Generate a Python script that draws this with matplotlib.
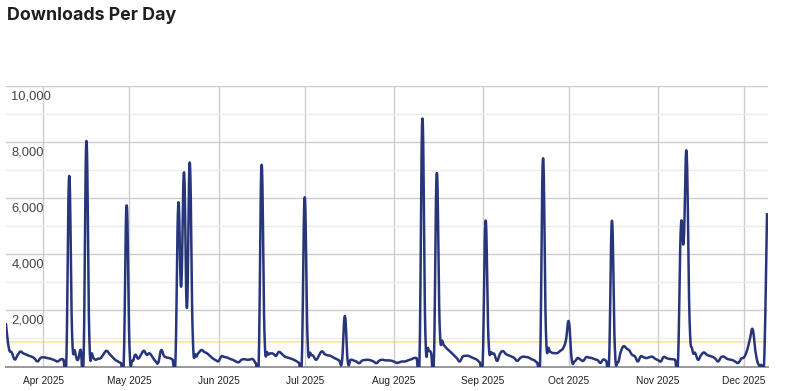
import numpy as np
import pandas as pd
import matplotlib
matplotlib.use("Agg")
import matplotlib.pyplot as plt
import matplotlib.dates as mdates
import matplotlib.transforms as mtransforms

# ---------------- data ----------------
start_date = "2025-03-19"
mar = [1500, 650, 500, 250, 400, 530, 470, 430, 380, 350, 280, 180, 300]
apr = [330, 310, 290, 260, 220, 180, 250, 250, 150, 6800,
       1200, 550, 230, 600, 200, 8050, 1100, 450, 250, 280,
       300, 450, 560, 450, 350, 240, 180, 130, 150, 5750]
may = [700, 200, 420, 280, 420, 560, 420, 470, 330, 200,
       130, 580, 380, 320, 300, 250, 180, 5800, 2850, 6930,
       2090, 7280, 1200, 420, 480, 590, 520, 470, 380, 290, 230]
jun = [190, 360, 340, 320, 270, 240, 180, 150, 240, 260,
       240, 250, 260, 120, 150, 7200, 1200, 500, 470, 460,
       380, 520, 450, 360, 320, 290, 250, 200, 140, 150]
jul = [6040, 1000, 480, 380, 240, 400, 540, 440, 400, 380,
       320, 270, 220, 180, 1800, 180, 240, 220, 180, 120,
       210, 230, 240, 220, 180, 120, 210, 240, 220, 220, 210]
aug = [180, 130, 150, 180, 180, 220, 250, 300, 300, 250,
       8850, 1300, 650, 500, 200, 6900, 1500, 900, 700, 600,
       500, 400, 300, 180, 350, 380, 380, 330, 290, 240, 150]
sep = [170, 5210, 1000, 500, 450, 200, 450, 550, 450, 400,
       360, 300, 200, 300, 350, 340, 320, 260, 220, 140,
       200, 7430, 1300, 650, 500, 480, 480, 560, 650, 950]
oct_ = [1600, 250, 180, 300, 250, 200, 330, 320, 300, 260,
        230, 130, 250, 200, 180, 5200, 700, 150, 500, 720,
        650, 580, 420, 360, 180, 360, 330, 300, 330, 350, 280]
nov = [230, 180, 340, 300, 270, 260, 240, 150, 4960, 4460,
       7650, 1800, 600, 480, 240, 400, 500, 420, 380, 350,
       280, 180, 330, 350, 280, 250, 230, 170, 130, 280]
dec = [330, 560, 950, 1330, 520, 80, 60, 150, 5430]

reference_level = 890

y_ticks = [2000, 4000, 6000, 8000, 10000]
y_tick_labels = ["2,000", "4,000", "6,000", "8,000", "10,000"]
x_tick_dates = ["2025-04-01", "2025-05-01", "2025-06-01", "2025-07-01",
                "2025-08-01", "2025-09-01", "2025-10-01", "2025-11-01",
                "2025-12-01"]
x_tick_labels = ["Apr 2025", "May 2025", "Jun 2025", "Jul 2025", "Aug 2025",
                 "Sep 2025", "Oct 2025", "Nov 2025", "Dec 2025"]

values = np.array(mar + apr + may + jun + jul + aug + sep + oct_ + nov + dec, dtype=float)
dates = pd.date_range(start_date, periods=len(values), freq="D")
xnum = mdates.date2num(dates.to_pydatetime())


def smooth(x, y, f=0.22, n=16):
    """Smoothed curve through the points (cubic Bezier segments, 'function' style)."""
    xp = np.concatenate([[x[0]], x, [x[-1]]])
    yp = np.concatenate([[y[0]], y, [y[-1]]])
    t = np.linspace(0, 1, n, endpoint=False)[:, None]
    b0 = (1 - t) ** 3
    b1 = 3 * (1 - t) ** 2 * t
    b2 = 3 * (1 - t) * t ** 2
    b3 = t ** 3
    xs, ys = [], []
    for i in range(len(y) - 1):
        j = i + 1  # index in padded arrays
        c1x = xp[j] + f * (xp[j + 1] - xp[j - 1])
        c1y = yp[j] + f * (yp[j + 1] - yp[j - 1])
        c2x = xp[j + 1] - f * (xp[j + 2] - xp[j])
        c2y = yp[j + 1] - f * (yp[j + 2] - yp[j])
        xs.append((b0 * xp[j] + b1 * c1x + b2 * c2x + b3 * xp[j + 1]).ravel())
        ys.append((b0 * yp[j] + b1 * c1y + b2 * c2y + b3 * yp[j + 1]).ravel())
    xs.append([x[-1]])
    ys.append([y[-1]])
    return np.concatenate(xs), np.concatenate(ys)


# ---------------- figure ----------------
W, H = 800, 391
fig = plt.figure(figsize=(W / 100, H / 100), dpi=100)
fig.patch.set_facecolor("white")

left, right, bottom, top = 6, 768, 366.5, 86.3
ax = fig.add_axes([left / W, (H - bottom) / H, (right - left) / W, (bottom - top) / H])

ax.set_ylim(0, 10000)
ax.set_xlim(xnum[0], xnum[-1] + 0.35)

# grid
ax.set_yticks([0] + y_ticks)
ax.set_yticks([1000, 3000, 5000, 7000, 9000], minor=True)
ax.grid(which="major", axis="y", color="#cccccc", lw=1.0, zorder=0)
ax.grid(which="minor", axis="y", color="#ebebeb", lw=1.0, zorder=0)
ax.tick_params(axis="y", which="both", length=0, labelleft=False)

tick_x = mdates.date2num(pd.to_datetime(x_tick_dates).to_pydatetime())
ax.set_xticks(tick_x)
ax.set_xticklabels(x_tick_labels, fontsize=7.3, color="#222222",
                   family=["Liberation Sans", "DejaVu Sans"])
ax.tick_params(axis="x", length=0, pad=6.5)
ax.grid(which="major", axis="x", color="#cccccc", lw=1.0, zorder=0)

for s in ["top", "right", "left"]:
    ax.spines[s].set_visible(False)
ax.spines["bottom"].set_color("#999999")
ax.spines["bottom"].set_linewidth(1.4)

# reference line
ax.axhline(reference_level, color="#fbe6b4", lw=1.5, zorder=1)

# data line
sx, sy = smooth(xnum, values)
ax.plot(sx, sy, color="#27357a", lw=1.8, zorder=3, solid_joinstyle="round")

# y labels inside the plot, just below each gridline
trans = mtransforms.blended_transform_factory(ax.transAxes, ax.transData)
off = mtransforms.ScaledTranslation(5.5 / 100, -10.0 / 100, fig.dpi_scale_trans)
for v, lab in zip(y_ticks, y_tick_labels):
    ax.text(0, v, lab, transform=trans + off, ha="left", va="center",
            fontsize=9.3, color="#444444", family=["Liberation Sans", "DejaVu Sans"],
            zorder=4)

fig.text(7 / W, 1 - 15.5 / H, "Downloads Per Day", ha="left", va="center",
         fontsize=12.8, fontweight="bold", color="#1f1f1f",
         family=["Inter", "DejaVu Sans"])

fig.savefig("out.png", dpi=100, facecolor="white")
